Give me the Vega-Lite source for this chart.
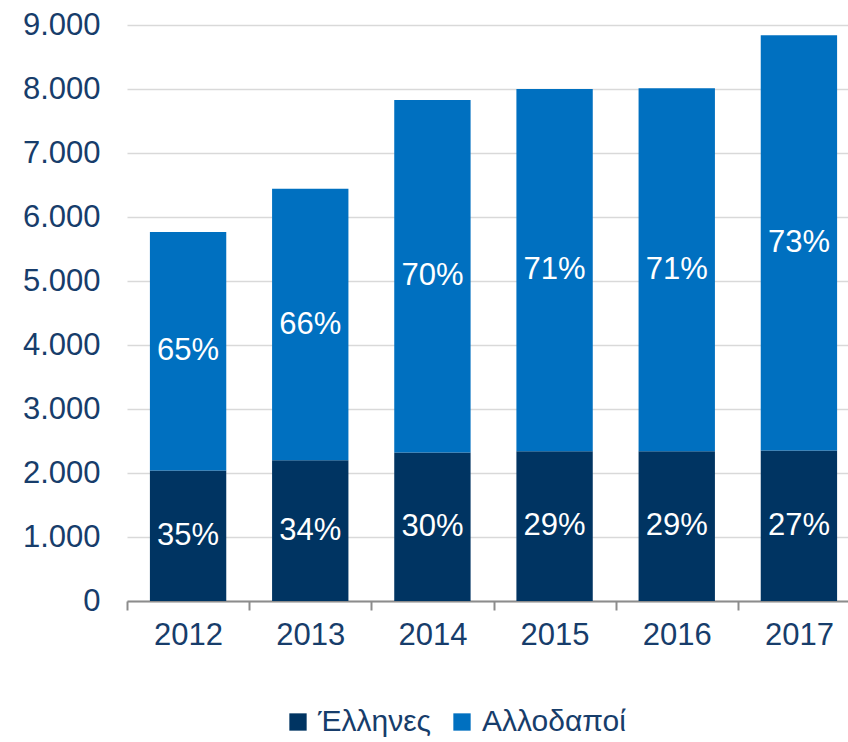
{
  "$schema": "https://vega.github.io/schema/vega-lite/v6.json",
  "width": 721,
  "height": 576,
  "autosize": "none",
  "padding": {"left": 127, "top": 25, "right": 0, "bottom": 141},
  "background": "white",
  "config": {
    "locale": {"number": {"decimal": ",", "thousands": ".", "grouping": [3], "currency": ["€", ""]}},
    "view": {"stroke": null},
    "font": "Liberation Sans"
  },
  "data": {
    "values": [
      {"year": "2012", "group": "Έλληνες", "order": 1, "value": 2040, "pct": "35%"},
      {"year": "2012", "group": "Αλλοδαποί", "order": 2, "value": 3725, "pct": "65%"},
      {"year": "2013", "group": "Έλληνες", "order": 1, "value": 2200, "pct": "34%"},
      {"year": "2013", "group": "Αλλοδαποί", "order": 2, "value": 4240, "pct": "66%"},
      {"year": "2014", "group": "Έλληνες", "order": 1, "value": 2320, "pct": "30%"},
      {"year": "2014", "group": "Αλλοδαποί", "order": 2, "value": 5510, "pct": "70%"},
      {"year": "2015", "group": "Έλληνες", "order": 1, "value": 2340, "pct": "29%"},
      {"year": "2015", "group": "Αλλοδαποί", "order": 2, "value": 5660, "pct": "71%"},
      {"year": "2016", "group": "Έλληνες", "order": 1, "value": 2340, "pct": "29%"},
      {"year": "2016", "group": "Αλλοδαποί", "order": 2, "value": 5670, "pct": "71%"},
      {"year": "2017", "group": "Έλληνες", "order": 1, "value": 2350, "pct": "27%"},
      {"year": "2017", "group": "Αλλοδαποί", "order": 2, "value": 6490, "pct": "73%"}
    ]
  },
  "encoding": {
    "x": {
      "field": "year",
      "type": "nominal",
      "scale": {"range": [0, 733], "paddingInner": 0, "paddingOuter": 0},
      "axis": {
        "title": null,
        "labelAngle": 0,
        "labelFontSize": 31,
        "labelColor": "#173D6B",
        "labelPadding": 10,
        "domainColor": "#8c8c8c",
        "domainWidth": 2,
        "tickColor": "#8c8c8c",
        "tickWidth": 2,
        "tickSize": 9,
        "tickBand": "extent",
        "grid": false
      }
    }
  },
  "layer": [
    {
      "mark": {"type": "bar", "width": {"band": 0.625}},
      "encoding": {
        "y": {
          "field": "value",
          "type": "quantitative",
          "stack": "zero",
          "scale": {"domain": [0, 9000], "nice": false},
          "axis": {
            "title": null,
            "values": [0, 1000, 2000, 3000, 4000, 5000, 6000, 7000, 8000, 9000],
            "format": ",d",
            "labelFontSize": 31,
            "labelColor": "#173D6B",
            "labelPadding": 27,
            "ticks": false,
            "tickSize": 0,
            "domain": false,
            "grid": true,
            "gridColor": "#d9d9d9",
            "gridWidth": 1.5
          }
        },
        "color": {
          "field": "group",
          "type": "nominal",
          "scale": {"domain": ["Έλληνες", "Αλλοδαποί"], "range": ["#003462", "#0070C0"]},
          "legend": {
            "title": null,
            "orient": "none",
            "legendX": 156,
            "legendY": 682,
            "direction": "horizontal",
            "symbolType": "square",
            "symbolSize": 300,
            "symbolStrokeWidth": 0,
            "labelFontSize": 30,
            "labelColor": "#173D6B",
            "labelOffset": 5,
            "columnPadding": 15
          }
        },
        "order": {"field": "order", "type": "quantitative"}
      }
    },
    {
      "mark": {"type": "text", "color": "white", "fontSize": 31, "baseline": "middle", "align": "center"},
      "encoding": {
        "y": {"field": "value", "type": "quantitative", "stack": "zero", "bandPosition": 0.5},
        "detail": {"field": "group"},
        "order": {"field": "order", "type": "quantitative"},
        "text": {"field": "pct"}
      }
    }
  ]
}
